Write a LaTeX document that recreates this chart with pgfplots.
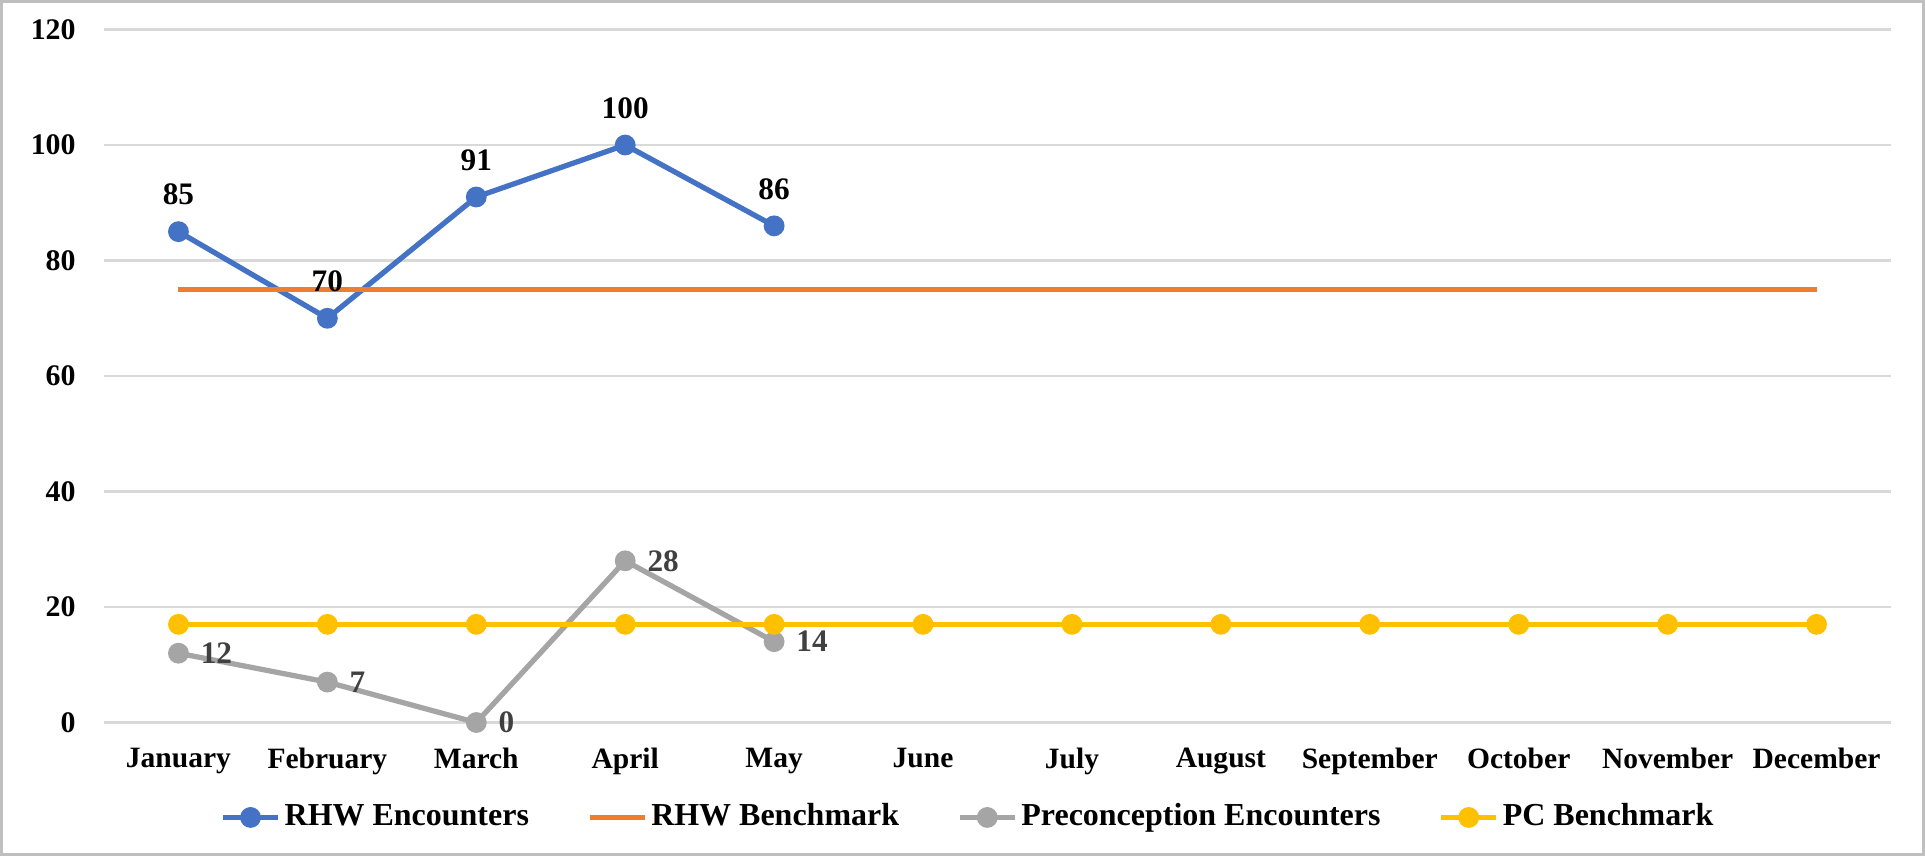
\documentclass[border=0pt]{standalone}
\usepackage{fontspec}
\setmainfont{Liberation Serif}
\usepackage{pgfplots}
\pgfplotsset{compat=1.18}
\definecolor{rhwBlue}{RGB}{68,114,196}
\definecolor{rhwOrange}{RGB}{237,125,49}
\definecolor{pcGray}{RGB}{165,165,165}
\definecolor{pcGold}{RGB}{255,192,0}
\definecolor{gridGray}{RGB}{217,217,217}
\definecolor{lblGray}{RGB}{64,64,64}

\begin{document}
\begin{tikzpicture}
\useasboundingbox (0,0) rectangle (192.5mm,-85.6mm);
\draw[color=gray!50,line width=0.8pt] (0.4pt,-0.4pt) rectangle (192.5mm-0.4pt,-85.6mm+0.4pt);
\begin{axis}[at={(10.4mm,-2.95mm)},anchor=north west,
  scale only axis,width=178.7mm,height=69.3mm,
  xmin=-0.5,xmax=11.5,ymin=0,ymax=120,
  xtick={0,...,11},
  xticklabels={January,February,March,April,May,June,July,August,September,October,November,December},
  ytick={0,20,...,120},
  ymajorgrids,grid style={gridGray,line width=0.8pt},
  axis line style={draw=none},major tick length=0,
  xticklabel style={font=\fontsize{8.4}{10}\selectfont\bfseries,yshift=-1.3mm},
  yticklabel style={font=\fontsize{8.5}{10}\selectfont\bfseries,xshift=-1.6mm},
  /pgf/number format/assume math mode=true,
  clip=false,
  legend columns=4,
  legend style={draw=none,at={(0.484,-0.137)},anchor=center,
    font=\fontsize{9.1}{11}\selectfont\bfseries,
    nodes={inner xsep=0.4mm},
    /tikz/every even column/.append style={column sep=5.4mm}},
  legend image code/.code={\draw[#1] (0mm,0mm) -- (5.5mm,0mm);
    \draw[#1,only marks] plot coordinates {(2.75mm,0mm)};},
]
\addplot[rhwBlue,line width=1.5pt,mark=*,mark size=2.2pt,
  nodes near coords,
  every node near coord/.append style={font=\fontsize{8.9}{10}\selectfont\bfseries,color=black,anchor=south,yshift=1.2mm}]
  coordinates {(0,85) (1,70) (2,91) (3,100) (4,86)};
\addlegendentry{RHW Encounters}
\addplot[rhwOrange,line width=1.5pt,mark=none]
  coordinates {(0,75) (1,75) (2,75) (3,75) (4,75) (5,75) (6,75) (7,75) (8,75) (9,75) (10,75) (11,75)};
\addlegendentry{RHW Benchmark}
\addplot[pcGray,line width=1.5pt,mark=*,mark size=2.2pt,
  nodes near coords,
  every node near coord/.append style={font=\fontsize{8.9}{10}\selectfont\bfseries,color=lblGray,anchor=west,xshift=0.8mm}]
  coordinates {(0,12) (1,7) (2,0) (3,28) (4,14)};
\addlegendentry{Preconception Encounters}
\addplot[pcGold,line width=1.5pt,mark=*,mark size=2.2pt]
  coordinates {(0,17) (1,17) (2,17) (3,17) (4,17) (5,17) (6,17) (7,17) (8,17) (9,17) (10,17) (11,17)};
\addlegendentry{PC Benchmark}
\end{axis}
\end{tikzpicture}
\end{document}
